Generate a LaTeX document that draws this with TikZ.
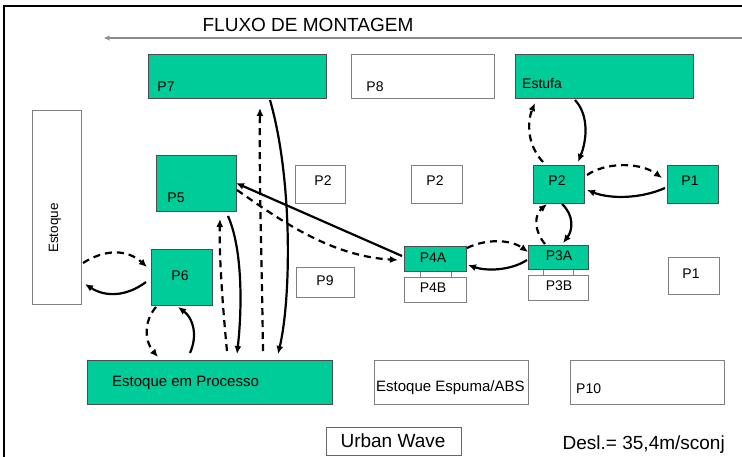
\documentclass[tikz,border=0pt]{standalone}
\usepackage{fontspec}
\setmainfont{Liberation Sans}
\usetikzlibrary{arrows.meta,fit,calc}
\definecolor{plantgreen}{RGB}{0,204,153}
\begin{document}
\begin{tikzpicture}[x=1pt,y=-1pt,
  stn/.style={draw=black!70, line width=0.8pt, fill=plantgreen, inner sep=0pt, outer sep=0pt},
  free/.style={draw=black!50, line width=0.8pt, fill=white, inner sep=0pt, outer sep=0pt},
  lbl/.style={inner sep=0pt, font=\fontsize{14}{16}\selectfont},
  bigtxt/.style={inner sep=0pt, font=\fontsize{19}{22}\selectfont},
  midtxt/.style={inner sep=0pt, font=\fontsize{15}{17}\selectfont},
  go/.style={line width=2.2pt, -{Latex[length=8pt,width=7pt]}},
  ret/.style={go, dash pattern=on 7pt off 5pt}]
\useasboundingbox (0,0) rectangle (742,456);
\clip (0,0) rectangle (742,456);
\fill[white] (0,0) rectangle (742,456);

% outer frame (only top and left edges fall inside the page)
\draw[line width=2.6pt] (4,470) |- (760,6);

% assembly flow direction
\node[bigtxt] (title) at (308,25) {FLUXO DE MONTAGEM};
\coordinate (flowstart) at (742,38);
\coordinate (flowend) at (104,38);
\draw[black!45, line width=1.2pt, -{Stealth[length=6pt,width=5pt]}] (flowstart) -- (flowend);

% top row
\node[stn,  fit={(148,54) (326,98)}] (p7) {};
\node[free, fit={(351,54) (494,98)}] (p8) {};
\node[stn,  fit={(515,54) (693,98)}] (estufa) {};
\node[lbl] at (166,87) {P7};
\node[lbl] at (375,87) {P8};
\node[lbl, anchor=west] at (522,83) {Estufa};

% raw material store
\node[free, fit={(32,110) (81,304)}] (estoque) {};
\node[inner sep=0pt, font=\fontsize{13.5}{15}\selectfont, rotate=90] at (55,228) {Estoque};

% stations
\node[stn,  fit={(156,155) (236,211)}] (p5) {};
\node[lbl] at (176,198) {P5};
\node[free, fit={(295,165) (345,203)}] (p2a) {};
\node[lbl] at (323,181) {P2};
\node[free, fit={(411,165) (462,203)}] (p2b) {};
\node[lbl] at (435,181) {P2};
\node[stn,  fit={(533,165) (584,203)}] (p2) {};
\node[lbl] at (557,181) {P2};
\node[stn,  fit={(667,165) (718,203)}] (p1) {};
\node[lbl] at (690,181) {P1};

\node[stn,  fit={(151,249) (212,305)}] (p6) {};
\node[lbl] at (180,276) {P6};
\node[free, fit={(296,267) (354,297)}] (p9) {};
\node[lbl] at (325,281) {P9};

\node[free, fit={(420,270) (451,278)}] (link4) {};
\node[stn,  fit={(404,246) (466,271)}] (p4a) {};
\node[free, fit={(404,277) (466,302)}] (p4b) {};
\node[lbl] at (433,258) {P4A};
\node[lbl] at (433,288) {P4B};

\node[free, fit={(543,268) (573,276)}] (link3) {};
\node[stn,  fit={(528,245) (588,269)}] (p3a) {};
\node[free, fit={(528,275) (588,300)}] (p3b) {};
\node[lbl] at (559,256) {P3A};
\node[lbl] at (559,286) {P3B};

\node[free, fit={(668,257) (719,294)}] (p1b) {};
\node[lbl] at (691,274) {P1};

% bottom row
\node[stn,  fit={(87,360) (332,404)}] (wip) {};
\node[midtxt, anchor=west] at (112,383) {Estoque em Processo};
\node[free, fit={(374,360) (528,404)}] (foam) {};
\node[midtxt, anchor=west] at (376,388) {Estoque Espuma/ABS};
\node[free, fit={(570,360) (724,404)}] (p10) {};
\node[lbl, anchor=west] at (576,389) {P10};

\node[free, draw=black!60, fit={(326,427) (461,455)}] (uw) {};
\node[bigtxt] at (393,441) {Urban Wave};
\node[bigtxt, anchor=east] at (725,445) {Desl.= 35,4m/sconj};

% Estoque <-> P6
\draw[ret] ($(estoque.north east)+(2,153)$) .. controls (105,249) and (127,249) .. ($(p6.north west)+(-4,18)$);
\draw[go]  ($(p6.north west)+(-5,33)$) .. controls (126,297) and (105,297) .. ($(estoque.north east)+(4,174)$);

% P6 <-> stock in process
\draw[ret] ($(p6.south west)+(5,2)$) .. controls (143,322) and (145,342) .. ($(wip.north west)+(71,-3)$);
\draw[go]  ($(wip.north west)+(103,-7)$) .. controls (198,335) and (193,318) .. ($(p6.south west)+(27,2)$);

% P5 <-> stock in process
\draw[ret] ($(wip.north west)+(140,-9)$) .. controls (222,300) and (219,250) .. ($(p5.south west)+(64,8)$);
\draw[go]  ($(p5.south west)+(72,5)$) .. controls (243,250) and (242,310) .. ($(wip.north west)+(150,-6)$);

% P7 <-> stock in process
\draw[ret] ($(wip.north west)+(176,-9)$) .. controls (262,270) and (259,180) .. ($(p7.south west)+(112,10)$);
\draw[go]  ($(p7.south west)+(122,2)$) .. controls (293,180) and (291,300) .. ($(wip.north west)+(191,-6)$);

% P4A <-> P5
\draw[go]  ($(p4a.north west)+(-2,10)$) -- ($(p5.north east)+(0,28)$);
\draw[ret] ($(p5.north east)+(1,35)$) .. controls (280,220) and (330,256) .. ($(p4a.north west)+(-6,14)$);

% P4A <-> P3A
\draw[ret] ($(p4a.north east)+(1,2)$) .. controls (485,239) and (510,239) .. ($(p3a.north west)+(0,7)$);
\draw[go]  ($(p3a.north west)+(-1,15)$) .. controls (510,271) and (486,271) .. ($(p4a.north east)+(2,19)$);

% P3A <-> P2
\draw[ret] ($(p3a.north west)+(17,-1)$) .. controls (534,231) and (534,215) .. ($(p2.south west)+(14,1)$);
\draw[go]  ($(p2.south west)+(29,1)$) .. controls (574,215) and (573,230) .. ($(p3a.north west)+(35,-2)$);

% P2 <-> P1
\draw[ret] ($(p2.north east)+(3,10)$) .. controls (606,162) and (640,162) .. ($(p1.north west)+(-5,13)$);
\draw[go]  ($(p1.north west)+(-2,23)$) .. controls (640,199) and (610,199) .. ($(p2.north east)+(3,25)$);

% P2 <-> Estufa
\draw[go]  ($(estufa.south west)+(60,2)$) .. controls (589,115) and (587,140) .. ($(p2.north west)+(45,-3)$);
\draw[ret] ($(p2.north west)+(10,-3)$) .. controls (527,145) and (527,122) .. ($(estufa.south west)+(20,5)$);
\end{tikzpicture}
\end{document}
